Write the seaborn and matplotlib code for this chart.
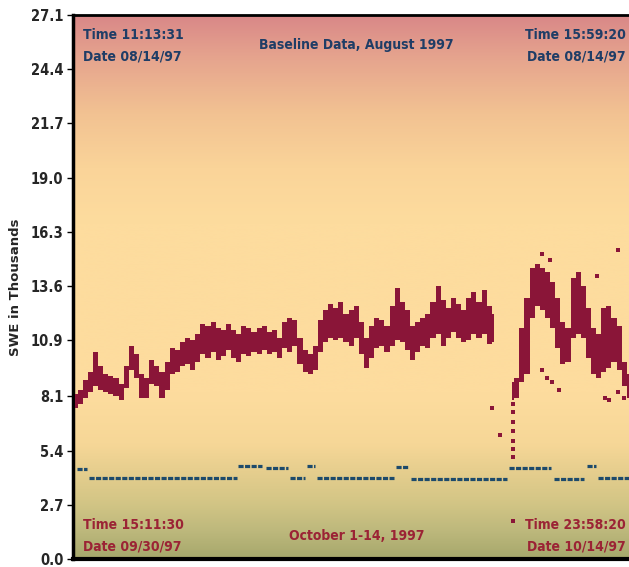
import numpy as np
import pandas as pd
import matplotlib
matplotlib.use("Agg")
import matplotlib.pyplot as plt
from matplotlib.colors import LinearSegmentedColormap
import seaborn as sns

# ---------------- data ----------------
y_ticks = [0.0, 2.7, 5.4, 8.1, 10.9, 13.6, 16.3, 19.0, 21.7, 24.4, 27.1]
y_tick_labels = ["0.0", "2.7", "5.4", "8.1", "10.9", "13.6", "16.3", "19.0", "21.7", "24.4", "27.1"]

# red (SWE) series, first block: sample index and low/high envelope
red1_x = list(range(2, 413, 5))
red1_lo = [7.5, 7.7, 8.0, 8.3, 8.6, 8.4, 8.3, 8.2, 8.1, 7.9,
           8.5, 9.4, 9.0, 8.0, 8.0, 8.7, 8.6, 8.0, 8.4, 9.2,
           9.3, 9.6, 9.7, 9.4, 9.8, 10.2, 10.0, 10.3, 9.9, 10.1,
           10.4, 10.0, 9.8, 10.2, 10.1, 10.3, 10.2, 10.4, 10.2, 10.3,
           10.0, 10.5, 10.3, 10.6, 9.7, 9.3, 9.2, 9.4, 10.3, 10.8,
           11.0, 10.9, 11.0, 10.8, 10.6, 11.0, 10.2, 9.5, 10.0, 10.5,
           10.6, 10.3, 10.6, 10.9, 10.8, 10.4, 9.9, 10.3, 10.6, 10.5,
           11.0, 11.2, 10.6, 11.0, 11.3, 11.0, 10.8, 10.9, 11.2, 11.0,
           11.2, 10.7, 10.8]
red1_hi = [8.2, 8.4, 8.9, 9.3, 10.3, 9.6, 9.2, 9.1, 9.0, 8.7,
           9.6, 10.6, 10.2, 9.2, 9.0, 9.9, 9.6, 9.3, 9.8, 10.5,
           10.4, 10.8, 11.0, 10.9, 11.2, 11.7, 11.6, 11.8, 11.5, 11.4,
           11.7, 11.4, 11.2, 11.6, 11.5, 11.3, 11.5, 11.6, 11.3, 11.4,
           11.0, 11.8, 12.0, 11.9, 11.0, 10.4, 10.2, 10.6, 11.9, 12.4,
           12.7, 12.5, 12.8, 12.2, 12.4, 12.6, 11.8, 11.0, 11.6, 12.0,
           11.9, 11.6, 12.6, 13.5, 12.8, 12.4, 11.6, 11.8, 12.0, 12.2,
           12.8, 13.6, 12.9, 12.5, 13.0, 12.7, 12.4, 13.0, 13.3, 12.8,
           13.4, 12.6, 12.2]

# red series, second block (after the gap)
red2_x = list(range(429, 555, 5))
red2_lo = [7.9, 8.0, 8.8, 9.2, 12.0, 12.6, 12.4, 12.0, 11.5, 10.5,
           9.7, 9.8, 11.0, 11.2, 11.0, 10.0, 9.2, 9.0, 9.3, 9.5,
           9.8, 9.4, 8.6, 8.0, 8.3, 8.1]
red2_hi = [8.8, 9.0, 11.5, 13.0, 14.5, 14.7, 14.5, 14.3, 13.8, 13.0,
           11.8, 11.5, 14.0, 14.3, 13.6, 12.5, 11.5, 11.2, 12.5, 12.6,
           12.0, 11.6, 9.8, 9.2, 9.3, 9.0]

# isolated red readings
red_pts_x = [410, 418, 430, 430, 430, 430, 430, 430, 430, 430,
             459, 466, 459, 464, 468, 475, 512, 520, 524, 533, 539, 533]
red_pts_y = [7.5, 6.2, 7.7, 7.3, 6.8, 6.4, 5.9, 5.5, 5.1, 1.9,
             15.2, 14.9, 9.4, 9.0, 8.8, 8.4, 14.1, 8.0, 7.9, 8.3, 8.0, 15.4]

# teal (baseline) series as level segments: start, end sample, level
teal_start = [4, 16, 161, 189, 212, 229, 239, 316, 331, 426, 470, 503, 513]
teal_end = [14, 160, 185, 210, 227, 237, 314, 329, 424, 467, 500, 511, 556]
teal_level = [4.5, 4.02, 4.62, 4.55, 4.05, 4.65, 4.02, 4.6, 4.0, 4.55, 4.0, 4.65, 4.05]

# ---------------- style ----------------
sns.set_theme(style="white")
plt.rcParams["font.family"] = ["DejaVu Sans"]
plt.rcParams["font.stretch"] = "condensed"
plt.rcParams["font.weight"] = "bold"

W, H = 629, 567
fig = plt.figure(figsize=(W / 100, H / 100), dpi=100)
fig.patch.set_facecolor("white")
ax = fig.add_axes([73 / W, 8 / H, 1.0 - 73 / W + 0.02, (559 - 15) / H])

xmax = 556
ymax = 27.1

# background gradient
stops = [(0.0, "#A6A86C"), (0.05, "#BDB87C"), (0.10, "#D2C585"), (0.16, "#E6CE8E"),
         (0.21, "#F6D797"), (0.30, "#FDDC9E"), (0.62, "#FDDC9E"), (0.72, "#FAD499"),
         (0.82, "#F2C292"), (0.92, "#E6A58E"), (1.0, "#D98888")]
cmap = LinearSegmentedColormap.from_list("bg", stops)
grad = np.linspace(0, 1, 256).reshape(-1, 1)
ax.imshow(grad, cmap=cmap, aspect="auto", origin="lower",
          extent=[0, xmax, 0, ymax], zorder=0, interpolation="bicubic")

red = "#8A1538"
teal = "#1D4A6B"

ax.fill_between(red1_x, red1_lo, red1_hi, step="mid", color=red, lw=0, zorder=3)
ax.fill_between(red2_x, red2_lo, red2_hi, step="mid", color=red, lw=0, zorder=3)

pts = pd.DataFrame({"x": red_pts_x, "y": red_pts_y})
sns.scatterplot(data=pts, x="x", y="y", ax=ax, color=red, marker="s", s=7,
                linewidth=0, zorder=4)

ax.hlines(teal_level, teal_start, teal_end, colors=teal, linewidth=2.3,
          linestyles=(0, (1.6, 0.45)), zorder=3)

ax.set_xlim(0, xmax)
ax.set_ylim(0, ymax)
ax.set_xticks([])
ax.set_yticks(y_ticks)
ax.set_yticklabels(y_tick_labels, fontsize=10.5, fontweight="bold", fontstretch="condensed")
ax.tick_params(axis="y", left=True, length=4, width=1, color="black", pad=3)
ax.set_xlabel("")
ax.set_ylabel("SWE in Thousands", fontsize=9.5, fontweight="bold",
              fontstretch="normal", labelpad=6)

for side in ["left", "top", "bottom"]:
    ax.spines[side].set_visible(True)
    ax.spines[side].set_color("black")
ax.spines["left"].set_linewidth(2.5)
ax.spines["top"].set_linewidth(2.0)
ax.spines["bottom"].set_linewidth(3.0)
ax.spines["right"].set_visible(False)

navy = "#1F3D66"
maroon = "#9B2335"
fs = 10

def ptxt(x, y, s, color, ha="left"):
    fig.text(x / W, 1 - y / H, s, color=color, ha=ha, va="center",
             fontsize=fs, fontweight="bold", fontstretch="condensed")

ptxt(83, 35, "Time 11:13:31", navy)
ptxt(83, 56, "Date 08/14/97", navy)
ptxt(356, 45, "Baseline Data, August 1997", navy, ha="center")
ptxt(626, 35, "Time 15:59:20", navy, ha="right")
ptxt(626, 56, "Date 08/14/97", navy, ha="right")

ptxt(83, 525, "Time 15:11:30", maroon)
ptxt(83, 546, "Date 09/30/97", maroon)
ptxt(357, 536, "October 1-14, 1997", maroon, ha="center")
ptxt(626, 525, "Time 23:58:20", maroon, ha="right")
ptxt(626, 546, "Date 10/14/97", maroon, ha="right")

fig.savefig("out.png", dpi=100)
